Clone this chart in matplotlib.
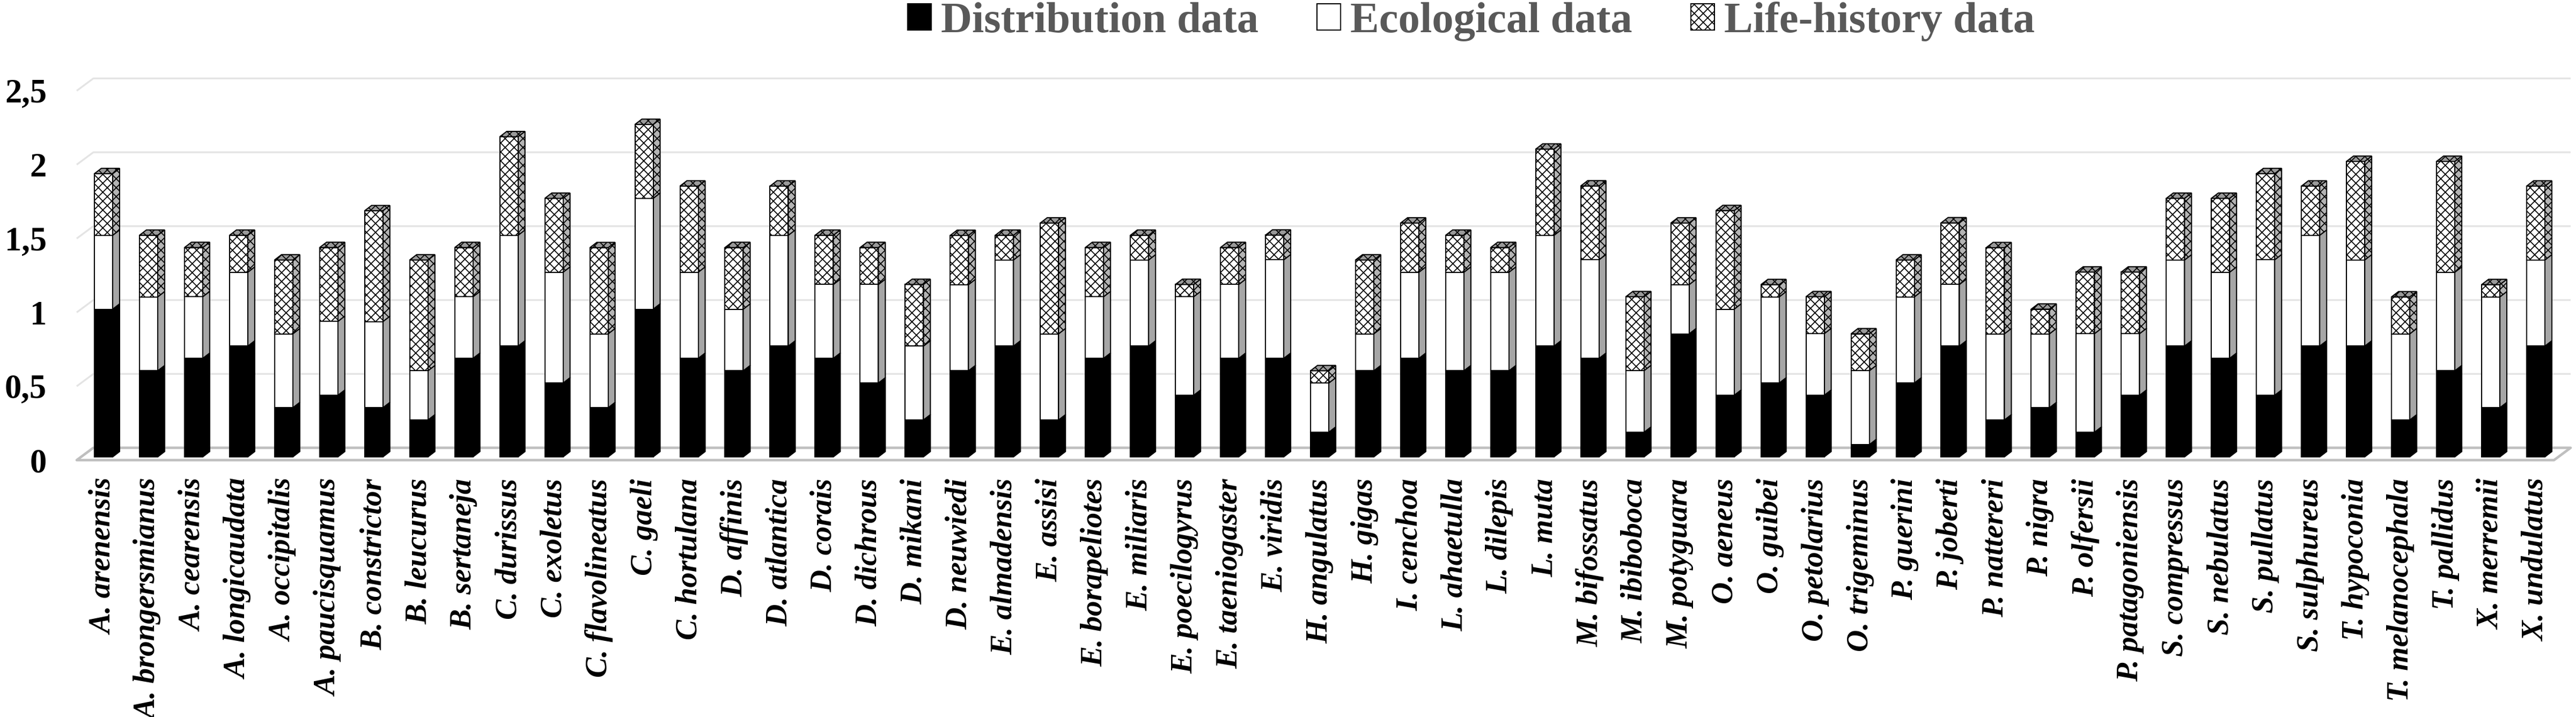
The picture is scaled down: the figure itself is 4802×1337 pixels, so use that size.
import matplotlib
matplotlib.use('Agg')
import matplotlib.pyplot as plt
from matplotlib.patches import Polygon, Patch
from matplotlib.transforms import ScaledTranslation
import numpy as np

species = ["A. arenensis", "A. brongersmianus", "A. cearensis", "A. longicaudata",
           "A. occipitalis", "A. paucisquamus", "B. constrictor", "B. leucurus",
           "B. sertaneja", "C. durissus", "C. exoletus", "C. flavolineatus",
           "C. gaeli", "C. hortulana", "D. affinis", "D. atlantica", "D. corais",
           "D. dichrous", "D. mikani", "D. neuwiedi", "E. almadensis", "E. assisi",
           "E. borapeliotes", "E. miliaris", "E. poecilogyrus", "E. taeniogaster",
           "E. viridis", "H. angulatus", "H. gigas", "I. cenchoa", "L. ahaetulla",
           "L. dilepis", "L. muta", "M. bifossatus", "M. ibiboboca", "M. potyguara",
           "O. aeneus", "O. guibei", "O. petolarius", "O. trigeminus", "P. guerini",
           "P. joberti", "P. nattereri", "P. nigra", "P. olfersii", "P. patagoniensis",
           "S. compressus", "S. nebulatus", "S. pullatus", "S. sulphureus",
           "T. hypoconia", "T. melanocephala", "T. pallidus", "X. merremii",
           "X. undulatus"]

distribution = [1.0, 0.583, 0.667, 0.75, 0.333, 0.417, 0.333, 0.25, 0.667, 0.75,
                0.5, 0.333, 1.0, 0.667, 0.583, 0.75, 0.667, 0.5, 0.25, 0.583,
                0.75, 0.25, 0.667, 0.75, 0.417, 0.667, 0.667, 0.167, 0.583, 0.667,
                0.583, 0.583, 0.75, 0.667, 0.167, 0.833, 0.417, 0.5, 0.417, 0.083,
                0.5, 0.75, 0.25, 0.333, 0.167, 0.417, 0.75, 0.667, 0.417, 0.75,
                0.75, 0.25, 0.583, 0.333, 0.75]

ecological = [0.5, 0.5, 0.417, 0.5, 0.5, 0.5, 0.583, 0.333, 0.417, 0.75,
              0.75, 0.5, 0.75, 0.583, 0.417, 0.75, 0.5, 0.667, 0.5, 0.583,
              0.583, 0.583, 0.417, 0.583, 0.667, 0.5, 0.667, 0.333, 0.25, 0.583,
              0.667, 0.667, 0.75, 0.667, 0.417, 0.333, 0.583, 0.583, 0.417, 0.5,
              0.583, 0.417, 0.583, 0.5, 0.667, 0.417, 0.583, 0.583, 0.917, 0.75,
              0.583, 0.583, 0.667, 0.75, 0.583]

life_history = [0.417, 0.417, 0.333, 0.25, 0.5, 0.5, 0.75, 0.75, 0.333, 0.667,
                0.5, 0.583, 0.5, 0.583, 0.417, 0.333, 0.333, 0.25, 0.417, 0.333,
                0.167, 0.75, 0.333, 0.167, 0.083, 0.25, 0.167, 0.083, 0.5, 0.333,
                0.25, 0.167, 0.583, 0.5, 0.5, 0.417, 0.667, 0.083, 0.25, 0.25,
                0.25, 0.417, 0.583, 0.167, 0.417, 0.417, 0.417, 0.5, 0.583, 0.333,
                0.667, 0.25, 0.75, 0.083, 0.5]

series_names = ["Distribution data", "Ecological data", "Life-history data"]
y_ticks = [0, 0.5, 1, 1.5, 2, 2.5]
y_tick_labels = ["0", "0,5", "1", "1,5", "2", "2,5"]

plt.rcParams['font.family'] = ['Liberation Serif', 'DejaVu Serif']
plt.rcParams['hatch.linewidth'] = 1.3

W, H, DPI = 48.02, 13.37, 100
fig = plt.figure(figsize=(W, H), dpi=DPI)
AX = [0.031445, 0.36275, 0.96168, 0.51515]
ax = fig.add_axes(AX)
n = len(species)
x0, x1 = -0.5, n - 0.5
ax.set_xlim(x0, x1)
ax.set_ylim(0, 2.5)
for s in ax.spines.values():
    s.set_visible(False)
ax.patch.set_visible(False)

# pixel -> data conversion
px_x = (x1 - x0) / (AX[2] * W * DPI)
px_y = 2.5 / (AX[3] * H * DPI)

back = (23 * px_x, 17 * px_y)         # back wall relative to bar front plane
front_wall = (-8 * px_x, -6 * px_y)   # front edge of floor/wall
dx, dy = 13 * px_x, 10 * px_y         # bar depth

grid_color = '#e4e4e4'
for v in y_ticks[1:]:
    ax.plot([x0 + front_wall[0], x0 + back[0], x1 + back[0]],
            [v + front_wall[1], v + back[1], v + back[1]],
            color=grid_color, lw=2.4, clip_on=False, zorder=0,
            solid_capstyle='butt')

floor = Polygon([(x0 + front_wall[0], front_wall[1]), (x0 + back[0], back[1]),
                 (x1 + back[0], back[1]), (x1 + front_wall[0], front_wall[1])],
                closed=True, fill=False, edgecolor='#bfbfbf', lw=3.4,
                clip_on=False, zorder=0.5, joinstyle='round')
ax.add_patch(floor)

bw = 0.405
xs = np.arange(n)
HATCH = 'xx'
segments = [
    (distribution, 'black', 'black', None),
    (ecological, 'white', '#a6a6a6', None),
    (life_history, 'white', '#b4b4b4', HATCH),
]
bottom = np.zeros(n)
for vals, fc, sc, hatch in segments:
    vals = np.asarray(vals, dtype=float)
    ax.bar(xs, vals, bw, bottom=bottom, color=fc, edgecolor='black',
           linewidth=1.5, hatch=hatch, zorder=2, clip_on=False)
    for i in range(n):
        xr = xs[i] + bw / 2
        b = bottom[i]
        t = b + vals[i]
        ax.add_patch(Polygon([(xr, b), (xr, t), (xr + dx, t + dy), (xr + dx, b + dy)],
                             closed=True, facecolor=sc, edgecolor='black', lw=1.5,
                             hatch=hatch, zorder=1.9, clip_on=False))
    bottom = bottom + vals

for i in range(n):
    xl = xs[i] - bw / 2
    xr = xs[i] + bw / 2
    t = bottom[i]
    ax.add_patch(Polygon([(xl, t), (xr, t), (xr + dx, t + dy), (xl + dx, t + dy)],
                         closed=True, facecolor='#9a9a9a', edgecolor='black', lw=1.5,
                         hatch=HATCH, zorder=2.1, clip_on=False))

ax.set_xticks(xs)
ax.set_xticklabels(species, rotation=90, fontsize=41, fontweight='bold',
                   fontstyle='italic')
ax.tick_params(axis='x', length=0, pad=28.8)
ax.set_yticks(y_ticks)
ax.set_yticklabels(y_tick_labels, fontsize=45, fontweight='bold')
ax.tick_params(axis='y', length=0, pad=46)
shift = ScaledTranslation(0, -0.06, fig.dpi_scale_trans)
for lab in ax.get_yticklabels():
    lab.set_transform(lab.get_transform() + shift)

handles = [Patch(facecolor='black', edgecolor='black', lw=1.5),
           Patch(facecolor='white', edgecolor='black', lw=1.5),
           Patch(facecolor='white', edgecolor='black', lw=1.5, hatch=HATCH)]
leg = fig.legend(handles, series_names, loc='center',
                 bbox_to_anchor=(0.5711, 0.9701), ncol=3, frameon=False,
                 prop={'weight': 'bold', 'size': 58}, handlelength=0.546,
                 handleheight=0.546, handletextpad=0.22, columnspacing=1.36,
                 borderpad=0, borderaxespad=0)
for t in leg.get_texts():
    t.set_color('#595959')

fig.savefig('out.png', dpi=DPI)
